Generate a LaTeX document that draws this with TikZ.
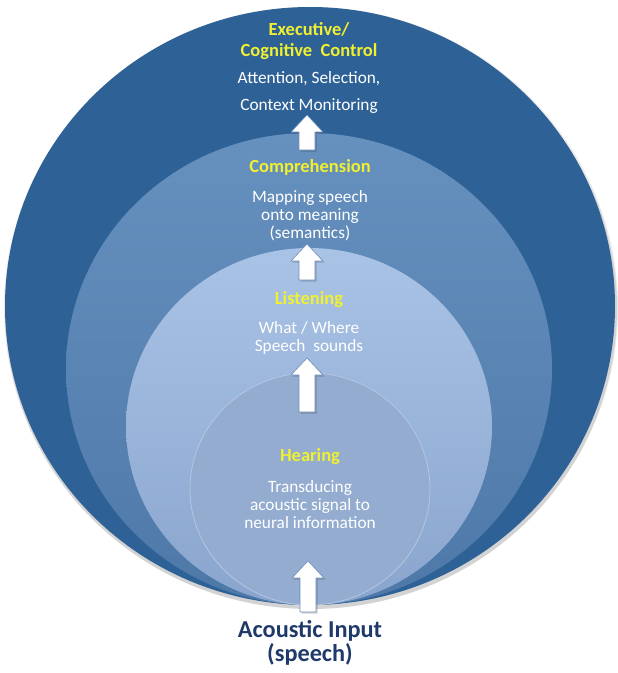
\documentclass[tikz,border=0pt]{standalone}
\usepackage{fontspec}
\setmainfont{Carlito}
\usetikzlibrary{shadings}
\definecolor{outerblue}{HTML}{2E6297}
\definecolor{midtop}{HTML}{6690BE}
\definecolor{midbot}{HTML}{4E78A8}
\definecolor{lighttop}{HTML}{A9C3E6}
\definecolor{lightbot}{HTML}{8AA5CD}
\definecolor{hearfill}{HTML}{93ACD0}
\definecolor{hearedge}{HTML}{B3C7E3}
\definecolor{headyellow}{HTML}{F0F030}
\definecolor{navy}{HTML}{1F3A6A}
\definecolor{arrowedge}{HTML}{6E8DBA}
\tikzset{
  heading/.style={font=\bfseries\fontsize{18.5}{20}\selectfont, text=headyellow, anchor=base, inner sep=0pt},
  body/.style={font=\fontsize{17.3}{18}\selectfont, text=white, anchor=base, inner sep=0pt},
  inputtext/.style={font=\bfseries\fontsize{24.3}{25}\selectfont, text=navy, anchor=base, inner sep=0pt},
  pics/uparrow/.style={code={
    \fill[black, opacity=0.18] (-6.5,1.5) -- (-6.5,{-#1+18.5}) -- (-14.5,{-#1+18.5}) -- (1.5,{-#1+1.5}) -- (17.5,{-#1+18.5}) -- (9.5,{-#1+18.5}) -- (9.5,1.5) -- cycle;
    \draw[fill=white, draw=arrowedge, line width=0.6pt, line join=round]
      (-8,0) -- (-8,{-#1+17}) -- (-16,{-#1+17}) -- (0,{-#1}) -- (16,{-#1+17}) -- (8,{-#1+17}) -- (8,0) -- cycle;
  }}
}
\begin{document}
\begin{tikzpicture}[x=1pt,y=-1pt]
\useasboundingbox (0,0) rectangle (618,673);
% soft shadow
\fill[black, opacity=0.10] (311,309) ellipse [x radius=306pt, y radius=300pt];
\fill[black, opacity=0.08] (311,308) ellipse [x radius=307pt, y radius=301pt];
% circles
\fill[outerblue] (310,306) coordinate (c1) ellipse [x radius=305pt, y radius=299pt];
\shade[top color=midtop, bottom color=midbot] (309,369) coordinate (c2) ellipse [x radius=243pt, y radius=236pt];
\shade[top color=lighttop, bottom color=lightbot] (309,426.5) coordinate (c3) ellipse [x radius=183pt, y radius=178.5pt];
\draw[fill=hearfill, draw=hearedge, line width=0.8pt] (310,489) coordinate (c4) ellipse [x radius=120pt, y radius=116pt];
% texts
\node[heading] (exec1) at (309,35) {Executive/};
\node[heading] (exec2) at (309,56) {Cognitive~~Control};
\node[body] (exec3) at (309,83) {Attention, Selection,};
\node[body] (exec4) at (309,110) {Context Monitoring};
\node[heading] (comp1) at (310,172) {Comprehension};
\node[body] (comp2) at (310,202) {Mapping speech};
\node[body] (comp3) at (310,220) {onto meaning};
\node[body] (comp4) at (310,238) {(semantics)};
\node[heading] (list1) at (309,304) {Listening};
\node[body] (list2) at (309,333) {What / Where};
\node[body] (list3) at (309,351) {Speech~~sounds};
\node[heading] (hear1) at (310,461) {Hearing};
\node[body] (hear2) at (310,492) {Transducing};
\node[body] (hear3) at (310,510) {acoustic signal to};
\node[body] (hear4) at (310,528) {neural information};
\node[inputtext] (in1) at (310,637) {Acoustic Input};
\node[inputtext] (in2) at (310,661) {(speech)};
% arrows
\coordinate (a1) at (307,150);
\coordinate (a2) at (307,280);
\coordinate (a3) at (307,412);
\coordinate (a4) at (308,612);
\pic at (a1) {uparrow=35};
\pic at (a2) {uparrow=36};
\pic at (a3) {uparrow=54};
\pic at (a4) {uparrow=51};
\end{tikzpicture}
\end{document}
